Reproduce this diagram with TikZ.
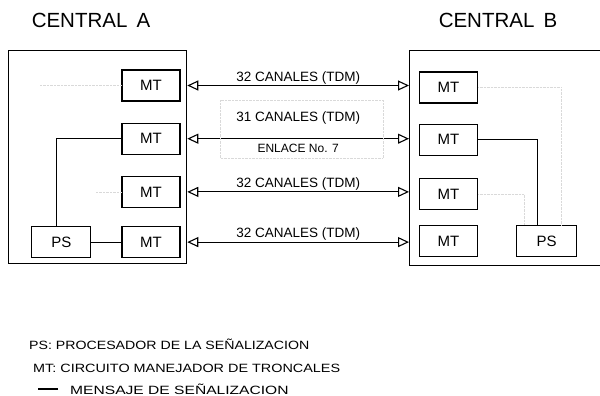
\documentclass[tikz,border=0pt]{standalone}
\usepackage{fontspec}
\setmainfont{Liberation Sans}
\usetikzlibrary{positioning,arrows.meta}

\begin{document}
\begin{tikzpicture}[x=1pt, y=-1pt, node distance=20pt,
  central/.style={draw, line width=1.3pt, anchor=north west, inner sep=0pt},
  mt/.style={draw, line width=1.2pt, minimum width=58pt, minimum height=31pt, inner sep=0pt, font=\fontsize{15}{17}\selectfont},
  tdm/.style={line width=1.1pt, {Triangle[open,length=11pt,width=10pt]}-{Triangle[open,length=11pt,width=10pt]}},
  canal/.style={inner sep=1pt, font=\fontsize{13.5}{15}\selectfont},
  faded/.style={gray!30, densely dotted, thin},
  nota/.style={anchor=west, inner sep=0pt, font=\fontsize{12}{14}\selectfont}]
  \useasboundingbox (0,0) rectangle (600,396);
  % titles
  \node(titA) at (91,20) {\fontsize{20.5}{24}\selectfont CENTRAL\, A};
  \node(titB) at (498,20) {\fontsize{20.5}{24}\selectfont CENTRAL\, B};
  % the two exchanges
  \node(cenA)[central, minimum width=178pt, minimum height=213pt] at (8,50) {};
  \node(cenB)[central, minimum width=200pt, minimum height=215pt] at (409,50) {};
  % central A
  \node(mtA1)[mt] at (151,85.5) {MT};
  \node(mtA2)[mt, below=21pt of mtA1] {MT};
  \node(mtA3)[mt, below=21pt of mtA2] {MT};
  \node(mtA4)[mt, below=18pt of mtA3] {MT};
  \node(psA)[mt, minimum width=59pt, left=30pt of mtA4] {PS};
  % central B
  \node(mtB1)[mt] at (448.5,87.5) {MT};
  \node(mtB2)[mt, below=20pt of mtB1] {MT};
  \node(mtB3)[mt, below=22pt of mtB2] {MT};
  \node(mtB4)[mt, below=15pt of mtB3] {MT};
  \node(psB)[mt, minimum width=60pt, right=38pt of mtB4] {PS};
  % signalling paths
  \draw[line width=1.2pt] ([xshift=-5pt]psA.north) |- (mtA2.west);
  \draw[line width=1.2pt] (psA) -- (mtA4);
  \draw[line width=1.2pt] (mtB2.east) -| ([xshift=-9pt]psB.north);
  \draw[faded] (mtB1.east) -| ([xshift=14pt]psB.north);
  \draw[faded] (mtB3.east) -| ([xshift=-23pt]psB.north);
  \draw[faded] (mtA1.west) -- ++(-82,0);
  \draw[faded] (mtA3.west) -- ++(-26,0);
  % trunks between the exchanges
  \draw[tdm] (cenA.east |- mtA1) -- (cenB.west |- mtA1) node[midway, above, canal] {32 CANALES (TDM)};
  \draw[tdm] (cenA.east |- mtA2) -- (cenB.west |- mtA2)
    node[midway, above=13pt, canal] {31 CANALES (TDM)}
    node[midway, below=4pt, canal, font=\fontsize{12}{14}\selectfont] {ENLACE No. 7};
  \draw[tdm] (cenA.east |- mtA3) -- (cenB.west |- mtA3) node[midway, above, canal] {32 CANALES (TDM)};
  \draw[tdm] (cenA.east |- mtA4) -- (cenB.west |- mtA4) node[midway, above, canal] {32 CANALES (TDM)};
  \draw[faded] (220,100) rectangle (383,158);
  % legend
  \node(notaPS)[nota] at (29,344) {\scalebox{1.18}[1]{PS: PROCESADOR DE LA SEÑALIZACION}};
  \node(notaMT)[nota] at (33,368) {\scalebox{1.2}[1]{MT: CIRCUITO MANEJADOR DE TRONCALES}};
  \node(notaMS)[nota] at (70,389) {\scalebox{1.3}[1]{MENSAJE DE SEÑALIZACION}};
  \draw[line width=1.8pt] ([xshift=-12pt]notaMS.west) -- ++(-20,0);
\end{tikzpicture}
\end{document}
